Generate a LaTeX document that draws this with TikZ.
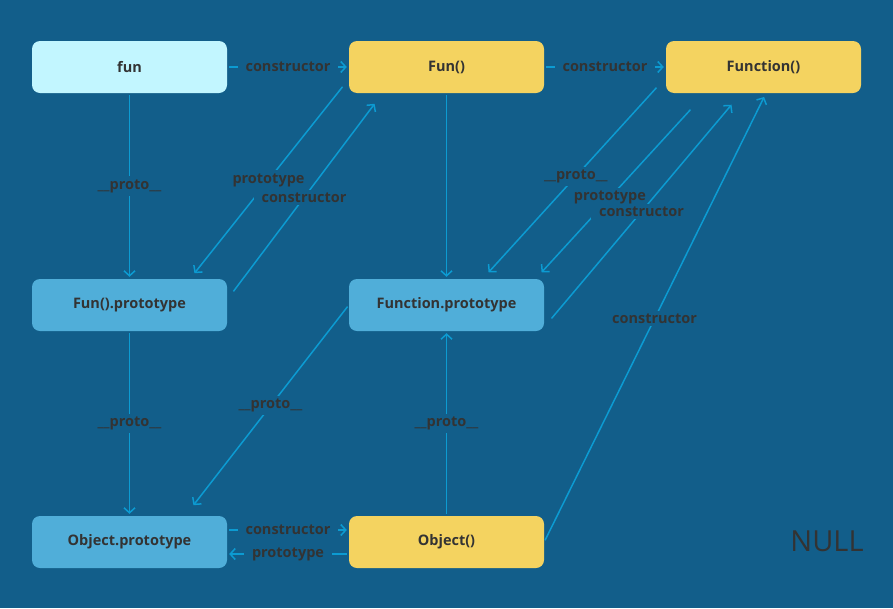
\documentclass[tikz,border=0pt]{standalone}
\usepackage{fontspec}
\setmainfont{Open Sans}
\usetikzlibrary{arrows.meta}
\definecolor{bg}{HTML}{125E8A}
\definecolor{txt}{HTML}{333333}
\definecolor{lnk}{HTML}{0C9BD2}
\definecolor{cyanbox}{HTML}{C2F6FF}
\definecolor{ylw}{HTML}{F4D360}
\definecolor{blu}{HTML}{50AED9}
\begin{document}
\begin{tikzpicture}[x=1pt,y=-1pt,
    box/.style={rounded corners=8pt, minimum width=195pt, minimum height=52pt,
        inner sep=0pt, text=txt, font=\bfseries\fontsize{14.5}{17}\selectfont},
    lbl/.style={fill=bg, text=txt, inner xsep=8pt, inner ysep=3pt, font=\bfseries\fontsize{14.5}{17}\selectfont},
    link/.style={draw=lnk, line width=1.5pt, shorten >=2pt, shorten <=2pt,
        -{Straight Barb[length=5pt,width=11pt]}}]
        \fill[bg] (0,0) rectangle (893,608);     % background
        \useasboundingbox (0,0) rectangle (893,608);

        \node[box,fill=cyanbox] (fun) at (129.5,67) {fun};
        \node[box,fill=ylw] (Funn) at (446.5,67) {Fun()};
        \node[box,fill=ylw] (Func) at (763.5,67) {Function()};
        \node[box,fill=blu] (FunP) at (129.5,305) {Fun().prototype};
        \node[box,fill=blu] (FuncP) at (446.5,305) {Function.prototype};
        \node[box,fill=blu] (ObjP) at (129.5,542) {Object.prototype};
        \node[box,fill=ylw] (Obj) at (446.5,542) {Object()};
        \node[text=txt,font=\fontsize{29}{32}\selectfont] (null) at (827,541) {NULL};

        % top row
        \draw[link] (fun) -- node[lbl] {constructor} (Funn);
        \draw[link] (Funn) -- node[lbl] {constructor} (Func);

        % fun and Fun()
        \draw[link] (fun) -- node[lbl] {\_\_proto\_\_} (FunP);
        \draw[link] ([shift={(-5,-8)}]Funn.south west) -- node[lbl] {prototype} ([shift={(-34,-4)}]FunP.north east);
        \draw[link] ([shift={(5,-12)}]FunP.east) -- node[lbl] {constructor} ([shift={(27,9)}]Funn.south west);
        \draw[link] (Funn) -- (FuncP);

        % Function()
        \draw[link] ([shift={(-8,-7)}]Func.south west) -- node[lbl,pos=0.48] {\_\_proto\_\_} ([shift={(-57,-5)}]FuncP.north east);
        \draw[link] ([shift={(26,15)}]Func.south west) -- node[lbl,pos=0.54] {prototype} ([shift={(-4,-5)}]FuncP.north east);
        \draw[link] ([shift={(6,15)}]FuncP.east) -- node[lbl] {constructor} ([shift={(67,10)}]Func.south west);
        \draw[link] (Obj.east) -- node[lbl] {constructor} ([shift={(1.5,2)}]Func.south);

        % Object
        \draw[link] (FuncP.west) -- node[lbl] {\_\_proto\_\_} ([shift={(-35,-9)}]ObjP.north east);
        \draw[link] (Obj) -- node[lbl] {\_\_proto\_\_} (FuncP);
        \draw[link] (FunP) -- node[lbl] {\_\_proto\_\_} (ObjP);
        \draw[link] ([shift={(0,-12)}]ObjP.east) -- node[lbl] {constructor} ([shift={(0,-12)}]Obj.west);
        \draw[link] ([shift={(0,12)}]Obj.west) -- node[lbl] {prototype} ([shift={(0,12)}]ObjP.east);
    \end{tikzpicture}
\end{document}
